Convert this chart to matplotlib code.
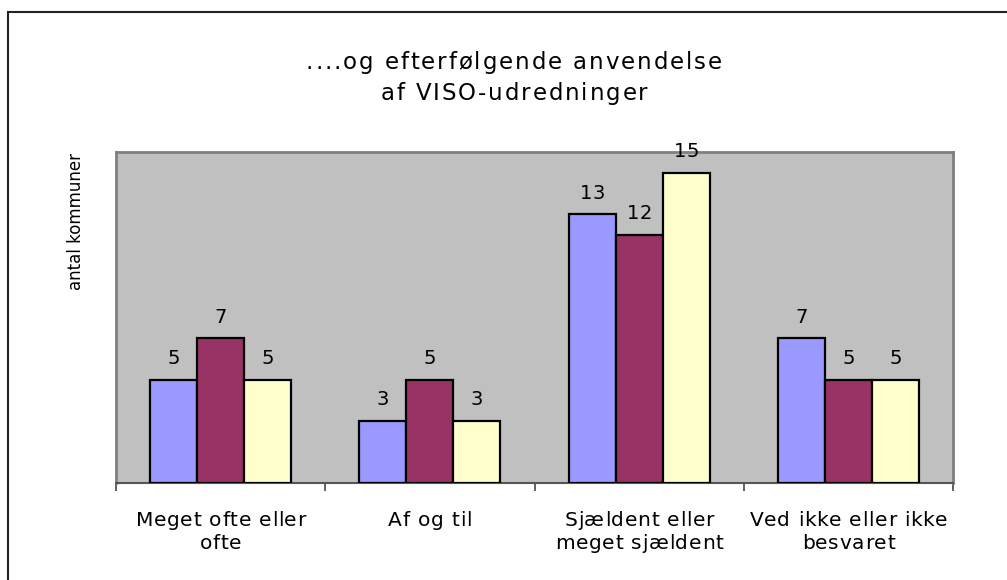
import matplotlib.pyplot as plt
import matplotlib.patches as patches
import numpy as np
from matplotlib import font_manager
from matplotlib.ft2font import FT2Font

categories = ["Meget ofte eller\nofte", "Af og til",
              "Sjældent eller\nmeget sjældent", "Ved ikke eller ikke\nbesvaret"]
series_a = [5, 3, 13, 7]
series_b = [7, 5, 12, 5]
series_c = [5, 3, 15, 5]
colors = ["#9999FF", "#993366", "#FFFFCC"]
title = "....og efterfølgende anvendelse\naf VISO-udredninger"
ylabel = "antal kommuner"

W, H = 1007, 580
FAMILY = "DejaVu Sans"
font_path = font_manager.findfont(font_manager.FontProperties(family=FAMILY))
ft = FT2Font(font_path)


def advance_px(ch, size):
    ft.set_size(size, 72)
    g = ft.load_char(ord(ch))
    return g.linearHoriAdvance / 65536 * 100 / 72


def spaced_text(fig, cx, base_y, s, size, track):
    # one line with a little extra letter spacing, centred at cx (px from left),
    # baseline at base_y (px from top)
    adv = [advance_px(c, size) for c in s]
    total = sum(adv) + track * (len(s) - 1)
    x = cx - total / 2
    for c, a in zip(s, adv):
        if c != " ":
            fig.text(x / W, 1 - base_y / H, c, ha="left", va="baseline",
                     fontsize=size, family=FAMILY, color="black")
        x += a + track


fig = plt.figure(figsize=(W / 100, H / 100), dpi=100)
ax = fig.add_axes([116 / W, 1 - 483 / H, (953 - 116) / W, (483 - 152) / H])
ax.set_facecolor("#C0C0C0")

# outer chart border (right and bottom fall outside the image)
fig.patches.append(patches.Rectangle((8 / W, -0.05), 1.1, 1 - 12 / H + 0.05,
                                     transform=fig.transFigure, fill=False,
                                     edgecolor="#222222", linewidth=1.5, zorder=0))

x = np.arange(len(categories))
w = 0.225
ax.set_xlim(-0.5, len(categories) - 0.5)
ax.set_ylim(0, 16)

for i, vals in enumerate([series_a, series_b, series_c]):
    bars = ax.bar(x + (i - 1) * w, vals, w, color=colors[i], edgecolor="black",
                  linewidth=1.6, zorder=3)
    for b, v in zip(bars, vals):
        px, py = ax.transData.transform((b.get_x() + b.get_width() / 2, v))
        spaced_text(fig, px, H - py - 15.5, str(v), 14, 0.5)

ax.set_yticks([])
ax.set_xticks(np.arange(-0.5, len(categories), 1))
ax.set_xticklabels([])
ax.tick_params(axis="x", length=6, width=1.2, color="#444444")

# category labels, two lines each
for xi, lab in zip(x, categories):
    px, _ = ax.transData.transform((xi, 0))
    for j, line in enumerate(lab.split("\n")):
        spaced_text(fig, px, 526 + j * 23, line, 14.5, 0.7)

for side in ["top", "left", "right"]:
    ax.spines[side].set_color("#808080")
    ax.spines[side].set_linewidth(2)
ax.spines["bottom"].set_color("#555555")
ax.spines["bottom"].set_linewidth(1.5)

for j, line in enumerate(title.split("\n")):
    spaced_text(fig, 514, 69 + j * 31, line, 16.5, 1.9)

fig.text(76 / W, 1 - 222 / H, ylabel, rotation=90, ha="center", va="center",
         fontsize=12, family=FAMILY, color="black")

fig.savefig("out.png", dpi=100)
